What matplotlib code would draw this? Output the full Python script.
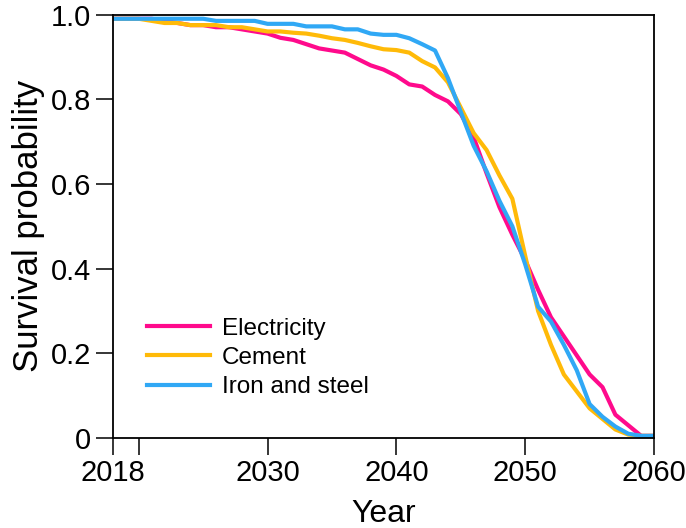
import matplotlib
matplotlib.use('Agg')
import matplotlib.pyplot as plt

plt.rcParams['font.family'] = ['Liberation Sans', 'DejaVu Sans']

years = list(range(2018, 2061))

electricity = [0.99, 0.99, 0.99, 0.99, 0.985, 0.98, 0.975, 0.975, 0.97, 0.97,
               0.965, 0.96, 0.955, 0.945, 0.94, 0.93, 0.92, 0.915, 0.91, 0.895,
               0.88, 0.87, 0.855, 0.835, 0.83, 0.81, 0.795, 0.765, 0.71, 0.625,
               0.545, 0.48, 0.42, 0.35, 0.285, 0.24, 0.195, 0.15, 0.12, 0.055,
               0.03, 0.005, 0.005]

cement = [0.99, 0.99, 0.99, 0.985, 0.98, 0.98, 0.975, 0.975, 0.975, 0.97,
          0.97, 0.965, 0.96, 0.96, 0.957, 0.955, 0.95, 0.944, 0.94, 0.933,
          0.925, 0.918, 0.916, 0.91, 0.89, 0.875, 0.84, 0.78, 0.72, 0.68,
          0.62, 0.565, 0.43, 0.30, 0.22, 0.15, 0.11, 0.07, 0.045, 0.02,
          0.008, 0.005, 0.005]

iron_steel = [0.99, 0.99, 0.99, 0.99, 0.99, 0.99, 0.99, 0.99, 0.985, 0.985,
              0.985, 0.985, 0.978, 0.978, 0.978, 0.972, 0.972, 0.972, 0.965, 0.965,
              0.955, 0.952, 0.952, 0.944, 0.93, 0.915, 0.85, 0.77, 0.69, 0.63,
              0.56, 0.50, 0.41, 0.31, 0.275, 0.22, 0.16, 0.08, 0.05, 0.027,
              0.01, 0.005, 0.005]

x_ticks = [2018, 2020, 2030, 2040, 2050, 2060]
x_labels = ['2018', '', '2030', '2040', '2050', '2060']
y_ticks = [0, 0.2, 0.4, 0.6, 0.8, 1.0]
y_labels = ['0', '0.2', '0.4', '0.6', '0.8', '1.0']

fig = plt.figure(figsize=(6.86, 5.28), dpi=100)
ax = fig.add_axes([0.1647, 0.1705, 0.7887, 0.802])

ax.plot(years, electricity, color='#FF0A8C', lw=3, label='Electricity')
ax.plot(years, cement, color='#FFBA08', lw=3, label='Cement')
ax.plot(years, iron_steel, color='#30A8F5', lw=3, label='Iron and steel')

ax.set_xlim(2018, 2060)
ax.set_ylim(0, 1.0)
ax.set_xticks(x_ticks)
ax.set_xticklabels(x_labels)
ax.set_yticks(y_ticks)
ax.set_yticklabels(y_labels)
ax.tick_params(direction='out', length=12, width=1.1, labelsize=21, color='black')
ax.tick_params(axis='y', pad=4)
ax.tick_params(axis='x', pad=3)
for s in ax.spines.values():
    s.set_linewidth(1.3)
    s.set_color('black')

ax.set_xlabel('Year', fontsize=23, labelpad=9)
ax.set_ylabel('Survival probability', fontsize=25, labelpad=4)

leg = ax.legend(loc='center left', bbox_to_anchor=(0.062, 0.189), frameon=False,
                fontsize=17.5, handlelength=2.6, handletextpad=0.5, labelspacing=0.3,
                borderpad=0, borderaxespad=0)

plt.savefig('out.png', dpi=100, facecolor='white')
